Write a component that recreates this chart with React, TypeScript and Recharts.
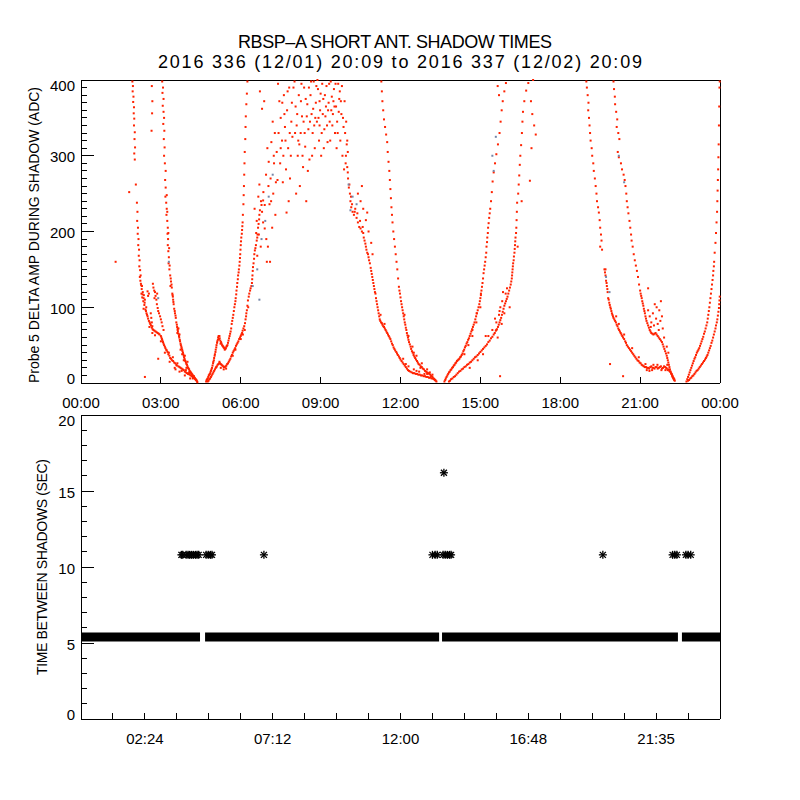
import React from 'react';
import { ScatterChart, ComposedChart, Scatter, Line, XAxis, YAxis } from 'recharts';

type Pt = [number, number]; // [hour of day, ADC]

// ---- top panel, one list per shadow branch ----
const dawnOuter: Pt[] = [
  [1.93, 398], [1.95, 392], [1.94, 385], [1.97, 378], [1.96, 371], [1.99, 364], [1.98, 356], [2.0, 349],
  [1.99, 340], [2.02, 331], [2.01, 322], [2.03, 311], [2.0, 303], [2.02, 295], [1.81, 252], [2.06, 262],
  [2.1, 238], [2.12, 226], [2.11, 214], [2.14, 205], [2.13, 197], [2.16, 190], [2.15, 182], [2.18, 176],
  [2.17, 168], [2.2, 162], [2.19, 154], [2.22, 149], [2.24, 142], [2.23, 135], [2.26, 129], [2.28, 124],
  [2.27, 118], [2.3, 113], [2.32, 120], [2.34, 108], [2.36, 116], [2.38, 103], [2.4, 110], [2.42, 97],
  [2.46, 92], [2.5, 88], [2.55, 82], [2.6, 78], [2.66, 73], [2.72, 70], [2.8, 68], [2.88, 66],
  [2.95, 64], [3.0, 62], [3.04, 58], [3.08, 54], [3.12, 50], [3.17, 46], [3.22, 43], [3.28, 38],
  [3.35, 33], [3.42, 30], [3.5, 27], [3.58, 24], [3.66, 22], [3.74, 20], [3.82, 18], [3.9, 15],
  [3.98, 13], [4.05, 12], [4.12, 10], [4.2, 8], [4.28, 6], [4.33, 4], [4.36, 2], [3.3, 40],
  [3.45, 34], [3.62, 26], [3.78, 16], [3.94, 17], [4.1, 14], [4.24, 9], [2.21, 140], [2.29, 128],
  [2.25, 131], [2.31, 117], [2.35, 112], [2.39, 106], [2.44, 95], [2.48, 90], [2.52, 85], [2.58, 80],
  [2.63, 76], [2.69, 71], [2.76, 69], [2.84, 67], [2.92, 65], [3.02, 60], [3.06, 56], [3.1, 52],
  [3.15, 48], [3.2, 44], [3.25, 41], [3.32, 36], [3.38, 32], [3.46, 29], [3.54, 26], [3.6, 23],
  [3.7, 21], [3.78, 19], [3.86, 17], [3.94, 14], [4.02, 12], [4.08, 11], [4.16, 9], [4.22, 7],
  [4.3, 5], [2.35, 98], [2.45, 100], [2.57, 74], [2.68, 66], [2.78, 63], [3.0, 55], [3.15, 40],
  [3.33, 28], [3.52, 20], [3.7, 15], [3.9, 10], [4.1, 6],
];
const dawnBump: Pt[] = [
  [2.7, 131], [2.72, 126], [2.75, 122], [2.78, 120], [2.8, 115], [2.83, 110], [2.85, 104], [2.88, 99],
  [2.9, 95], [2.93, 92], [2.97, 88], [3.0, 84], [3.03, 80], [3.06, 75], [3.1, 70], [2.62, 92],
  [2.64, 86], [2.66, 80], [2.68, 75], [2.5, 121], [2.55, 118], [2.52, 115], [2.76, 112], [2.86, 118],
];
const dawnInner: Pt[] = [
  [3.05, 398], [3.08, 390], [3.06, 383], [3.1, 375], [3.07, 366], [3.1, 358], [3.12, 350], [3.09, 342],
  [3.13, 333], [3.11, 322], [3.14, 311], [3.12, 300], [3.16, 268], [3.18, 258], [3.17, 246], [3.2, 238],
  [3.22, 230], [3.21, 222], [3.24, 214], [3.26, 205], [3.25, 197], [3.27, 190], [3.26, 182], [3.28, 174],
  [3.3, 166], [3.29, 158], [3.32, 150], [3.35, 142], [3.38, 134], [3.41, 126], [3.43, 118], [3.46, 110],
  [3.48, 104], [3.5, 98], [3.53, 92], [3.56, 86], [3.58, 80], [3.61, 74], [3.64, 68], [3.66, 65],
  [3.69, 60], [3.72, 55], [3.75, 50], [3.78, 46], [3.81, 42], [3.84, 38], [3.87, 34], [3.9, 30],
  [3.94, 27], [3.98, 24], [4.02, 20], [4.06, 18], [4.1, 15], [4.14, 13], [4.18, 11], [4.22, 9],
  [4.26, 7], [4.3, 5], [4.34, 3], [4.37, 1], [3.63, 70], [3.66, 72], [3.62, 66], [3.7, 64],
  [3.9, 36], [4.0, 28], [3.36, 128], [3.44, 116],
  [3.15, 290], [3.18, 280], [3.22, 248], [3.24, 226], [3.28, 198], [3.31, 178], [3.33, 155], [3.37, 138],
  [3.4, 130], [3.45, 114], [3.47, 107], [3.52, 95], [3.55, 89], [3.6, 77], [3.63, 72], [3.68, 62],
  [3.71, 57], [3.74, 52], [3.77, 48], [3.8, 44], [3.83, 40], [3.86, 36], [3.89, 32], [3.92, 29],
  [3.96, 25], [4.0, 22], [4.04, 19], [4.08, 16], [4.12, 14], [4.16, 12], [4.2, 10], [4.24, 8],
  [4.28, 6], [4.32, 4], [3.74, 44], [3.8, 38], [3.86, 30], [3.96, 20], [4.06, 14], [4.2, 6],
];
const dawnStray: Pt[] = [
  [2.66, 392], [2.68, 372], [2.67, 356], [2.65, 333], [1.3, 160], [2.4, 8], [2.9, 32], [3.55, 18],
];
const morningUpper: Pt[] = [
  [4.7, 2], [4.74, 5], [4.78, 8], [4.82, 11], [4.86, 14], [4.9, 18], [4.94, 23], [4.97, 28],
  [5.0, 33], [5.03, 38], [5.06, 44], [5.09, 50], [5.12, 55], [5.15, 60], [5.18, 58], [5.2, 62],
  [5.23, 56], [5.26, 54], [5.3, 50], [5.34, 48], [5.38, 46], [5.42, 45], [5.46, 48], [5.5, 50],
  [5.54, 56], [5.58, 62], [5.62, 68], [5.66, 78], [5.7, 86], [5.74, 95], [5.78, 104], [5.81, 112],
  [5.84, 122], [5.87, 132], [5.9, 142], [5.93, 150], [5.96, 160], [5.98, 170], [6.0, 182], [6.02, 192],
  [6.05, 202], [6.07, 212], [6.08, 222], [6.1, 236], [6.11, 248], [6.12, 260], [6.13, 275], [6.14, 290],
  [6.15, 305], [6.17, 322], [6.18, 338], [6.19, 352], [6.21, 368], [6.23, 382], [6.25, 398], [5.24, 52],
  [4.72, 4], [4.76, 6], [4.8, 10], [4.84, 12], [4.88, 16], [4.92, 20], [4.96, 26], [4.99, 30],
  [5.02, 36], [5.05, 41], [5.08, 47], [5.11, 53], [5.14, 57], [5.17, 62], [5.21, 59], [5.28, 52],
  [5.32, 49], [5.36, 47], [5.4, 44], [5.44, 46], [5.48, 49], [5.52, 53], [5.56, 59], [5.6, 65],
  [5.64, 72], [5.68, 82], [5.72, 90], [5.76, 100], [5.8, 108], [5.83, 117], [5.86, 127], [5.89, 137],
  [5.92, 146], [5.95, 155], [5.97, 165], [5.99, 176], [6.01, 187], [6.04, 197], [6.06, 207],
];
const morningLower: Pt[] = [
  [4.76, 2], [4.82, 5], [4.88, 8], [4.94, 12], [5.0, 16], [5.06, 20], [5.1, 22], [5.16, 25],
  [5.22, 26], [5.28, 24], [5.34, 22], [5.4, 21], [5.46, 23], [5.52, 26], [5.58, 30], [5.64, 35],
  [5.7, 40], [5.76, 44], [5.82, 49], [5.88, 53], [5.94, 58], [6.0, 62], [6.05, 66], [6.1, 72],
  [6.16, 79], [6.2, 88], [6.23, 96], [6.27, 109], [6.32, 118], [6.37, 125], [6.42, 132], [6.44, 142],
  [6.46, 153], [6.5, 164], [6.53, 175], [6.57, 182], [6.6, 188], [6.63, 196], [6.65, 205], [6.69, 216],
  [6.72, 228], [6.78, 235], [6.84, 241], [5.25, 20], [5.36, 18], [5.8, 44], [6.08, 64],
  [4.79, 3], [4.85, 6], [4.91, 10], [4.97, 14], [5.03, 18], [5.08, 21], [5.13, 24], [5.19, 26],
  [5.25, 25], [5.31, 23], [5.37, 21], [5.43, 22], [5.49, 25], [5.55, 28], [5.61, 32], [5.67, 37],
  [5.73, 42], [5.79, 46], [5.85, 51], [5.91, 55], [5.97, 60], [6.02, 64], [6.07, 69], [6.13, 75],
  [6.18, 84], [6.21, 92], [6.25, 102], [6.3, 114], [6.35, 122], [6.4, 128], [6.43, 137], [6.45, 148],
  [6.48, 158], [6.51, 170], [6.55, 178], [6.62, 192], [6.67, 210], [6.7, 222], [5.2, 28], [5.45, 19],
  [5.7, 36], [6.0, 58], [6.15, 70], [6.28, 100],
];
const noonCloud: Pt[] = [
  [6.52, 230], [6.6, 214], [6.58, 198], [6.66, 246], [6.7, 262], [6.75, 180], [6.8, 226], [6.85, 252],
  [6.9, 204], [6.95, 275], [6.72, 385], [6.8, 362], [6.88, 372], [6.62, 168], [6.98, 160],
  [7.0, 310], [7.05, 292], [7.08, 236], [7.12, 270], [7.15, 318], [7.18, 205], [7.22, 250], [7.25, 290],
  [7.3, 222], [7.35, 305], [7.02, 180], [7.1, 160], [7.28, 330], [7.38, 268], [7.2, 345],
  [7.4, 395], [7.45, 372], [7.5, 350], [7.55, 320], [7.6, 300], [7.62, 380], [7.66, 338], [7.7, 282],
  [7.74, 360], [7.78, 310], [7.82, 390], [7.85, 270], [7.9, 345], [7.94, 325], [7.48, 290], [7.58, 265],
  [7.8, 240], [7.72, 225],
  [8.02, 398], [8.06, 365], [8.1, 340], [8.14, 300], [8.18, 380], [8.22, 260], [8.25, 330], [8.3, 352],
  [8.34, 285], [8.38, 390], [8.42, 312], [8.46, 240], [8.5, 368], [8.54, 335], [8.58, 295], [8.08, 250],
  [8.28, 395], [8.44, 375], [8.16, 320], [8.36, 345],
  [8.62, 380], [8.66, 355], [8.7, 330], [8.74, 398], [8.78, 310], [8.82, 370], [8.86, 345], [8.9, 388],
  [8.94, 320], [8.98, 360], [9.02, 300], [9.06, 395], [9.1, 375], [9.14, 335], [9.18, 352], [9.22, 392],
  [9.26, 318], [9.3, 370], [9.34, 345], [8.68, 300], [8.88, 400], [9.0, 382], [9.2, 365], [8.8, 350],
  [9.12, 310],
  [9.38, 398], [9.42, 378], [9.46, 355], [9.5, 388], [9.54, 330], [9.58, 365], [9.62, 345], [9.66, 395],
  [9.7, 375], [9.74, 320], [9.78, 355], [9.82, 300], [9.86, 338], [9.9, 372], [9.94, 290], [9.98, 315],
  [9.44, 340], [9.6, 310], [9.72, 385], [9.88, 282], [9.52, 365], [9.8, 392], [8.96, 340], [8.56, 390],
  [8.04, 330], [8.12, 355], [8.2, 315], [8.26, 372], [8.32, 300], [8.4, 330], [8.48, 352], [8.52, 280],
  [8.6, 345], [8.64, 398], [8.72, 362], [8.76, 340], [8.84, 392], [8.92, 350], [8.96, 372], [9.04, 330],
  [9.08, 355], [9.16, 380], [9.24, 340], [9.28, 360], [9.32, 395], [9.36, 320], [9.4, 360], [9.48, 372],
  [9.56, 395], [9.64, 330], [9.68, 358], [9.76, 372], [9.84, 350], [9.92, 330], [9.96, 345], [10.0, 320],
  [10.02, 305], [7.5, 310], [7.56, 370], [7.64, 355], [7.68, 320], [7.76, 385], [7.84, 330], [7.88, 300],
  [7.92, 370], [7.98, 390], [7.04, 260], [7.14, 240], [7.24, 300], [7.32, 265], [7.42, 330], [6.9, 235],
  [6.96, 190], [6.84, 212], [6.76, 240], [6.68, 196],
];
const noonFallLeft: Pt[] = [
  [9.95, 300], [10.0, 285], [10.03, 270], [10.06, 258], [10.1, 250], [10.12, 240], [10.15, 232], [10.2, 226],
  [10.25, 222], [10.3, 230], [10.35, 218], [10.4, 212], [10.45, 206], [10.5, 204], [10.55, 200], [10.6, 198],
  [10.65, 188], [10.7, 180], [10.75, 172], [10.8, 166], [10.85, 158], [10.9, 148], [10.94, 140], [10.98, 132],
  [11.02, 124], [11.06, 118], [11.1, 108], [11.14, 100], [11.18, 92], [11.22, 84], [11.27, 80], [11.32, 77],
  [11.38, 74], [11.44, 70], [11.5, 66], [11.56, 62], [11.62, 58], [11.68, 52], [11.74, 47], [11.8, 43],
  [11.87, 39], [11.94, 35], [12.0, 31], [12.08, 27], [12.16, 23], [12.24, 19], [12.32, 16], [12.42, 14],
  [12.52, 13], [12.62, 12], [12.72, 11], [12.82, 10], [12.92, 9], [13.02, 8], [13.12, 7], [13.22, 6],
  [13.3, 4], [13.35, 2], [10.5, 240], [10.6, 230], [10.7, 215], [10.75, 225], [10.8, 200], [10.9, 185],
  [10.95, 170], [10.4, 250], [10.55, 260], [11.25, 90], [11.4, 78], [12.2, 25], [12.6, 16], [13.0, 12],
  [10.02, 278], [10.08, 262], [10.14, 246], [10.18, 236], [10.28, 226], [10.38, 224], [10.48, 214], [10.58, 206],
  [10.62, 192], [10.68, 184], [10.72, 176], [10.78, 170], [10.82, 162], [10.88, 152], [10.92, 144], [10.96, 136],
  [11.0, 128], [11.04, 120], [11.08, 112], [11.12, 104], [11.16, 96], [11.2, 88], [11.24, 82], [11.3, 79],
  [11.35, 75], [11.41, 72], [11.47, 68], [11.53, 64], [11.59, 60], [11.65, 55], [11.71, 50], [11.77, 45],
  [11.84, 41], [11.9, 37], [11.97, 33], [12.04, 29], [12.12, 25], [12.2, 21], [12.28, 17], [12.37, 15],
  [12.47, 13], [12.57, 12], [12.67, 11], [12.77, 10], [12.87, 9], [12.97, 8], [13.07, 7], [13.17, 6],
  [13.26, 5], [12.1, 32], [12.3, 22], [12.5, 18], [12.7, 15], [12.9, 12], [13.15, 9],
];
const noonFallRight: Pt[] = [
  [11.28, 398], [11.3, 385], [11.32, 372], [11.35, 360], [11.38, 348], [11.42, 338], [11.46, 328], [11.5, 318],
  [11.52, 305], [11.55, 292], [11.58, 280], [11.6, 268], [11.62, 256], [11.64, 244], [11.66, 232], [11.68, 222],
  [11.7, 212], [11.73, 200], [11.76, 190], [11.79, 180], [11.82, 170], [11.85, 160], [11.88, 150], [11.91, 138],
  [11.94, 127], [11.98, 118], [12.02, 108], [12.06, 100], [12.1, 92], [12.14, 84], [12.18, 77], [12.22, 70],
  [12.26, 63], [12.3, 57], [12.35, 51], [12.4, 45], [12.46, 40], [12.52, 35], [12.58, 31], [12.65, 27],
  [12.72, 24], [12.8, 21], [12.88, 18], [12.96, 15], [13.04, 13], [13.12, 11], [13.2, 8], [13.27, 5],
  [13.32, 3], [12.5, 40], [12.75, 20], [13.1, 14],
  [11.96, 122], [12.0, 113], [12.04, 104], [12.08, 96], [12.12, 88], [12.16, 80], [12.2, 73], [12.24, 66],
  [12.28, 60], [12.32, 54], [12.38, 48], [12.43, 42], [12.49, 37], [12.55, 33], [12.62, 29], [12.68, 25],
  [12.76, 22], [12.84, 19], [12.92, 16], [13.0, 14], [13.08, 12], [13.16, 9], [13.24, 6], [13.3, 4],
  [12.15, 90], [12.3, 62], [12.45, 48], [12.6, 36], [12.8, 26], [13.0, 18], [13.2, 11],
];
const afternoonUpper: Pt[] = [
  [13.65, 2], [13.7, 6], [13.76, 10], [13.82, 14], [13.88, 17], [13.94, 20], [14.0, 23], [14.06, 26],
  [14.12, 29], [14.18, 31], [14.24, 34], [14.3, 37], [14.36, 42], [14.42, 47], [14.48, 52], [14.54, 57],
  [14.6, 62], [14.66, 68], [14.72, 74], [14.78, 80], [14.84, 88], [14.9, 96], [14.96, 104], [15.0, 112],
  [15.04, 122], [15.08, 132], [15.12, 145], [15.16, 155], [15.2, 166], [15.23, 180], [15.26, 192], [15.29, 205],
  [15.33, 218], [15.37, 230], [15.4, 240], [15.43, 252], [15.46, 266], [15.5, 278], [15.55, 290], [15.6, 302],
  [15.66, 315], [15.72, 330], [15.76, 345], [15.8, 360], [15.84, 372], [15.9, 385], [15.96, 396], [15.7, 380],
  [15.65, 392], [14.7, 70], [14.86, 92], [15.02, 118],
  [13.68, 4], [13.73, 8], [13.79, 12], [13.85, 15], [13.91, 18], [13.97, 21], [14.03, 24], [14.09, 27],
  [14.15, 30], [14.21, 32], [14.27, 35], [14.33, 39], [14.39, 44], [14.45, 49], [14.51, 54], [14.57, 59],
  [14.63, 65], [14.69, 71], [14.75, 77], [14.81, 84], [14.87, 92], [14.93, 100], [14.98, 108], [15.02, 116],
  [15.06, 127], [15.1, 138], [15.14, 150], [15.18, 160], [15.22, 172], [15.25, 186], [15.28, 198], [15.31, 211],
  [15.35, 224], [14.4, 38], [14.55, 50], [14.7, 62], [14.85, 80], [15.0, 100],
];
const afternoonLower: Pt[] = [
  [13.82, 2], [13.9, 5], [14.0, 8], [14.1, 11], [14.2, 15], [14.3, 18], [14.4, 21], [14.5, 24],
  [14.6, 27], [14.7, 30], [14.8, 34], [14.9, 37], [15.0, 41], [15.1, 45], [15.2, 49], [15.3, 54],
  [15.4, 59], [15.5, 64], [15.58, 69], [15.66, 74], [15.72, 80], [15.78, 86], [15.84, 94], [15.9, 102],
  [15.96, 108], [16.02, 114], [16.08, 122], [16.14, 130], [16.18, 138], [16.2, 146], [16.22, 154], [16.25, 162],
  [16.28, 172], [16.3, 182], [16.32, 192], [16.35, 205], [16.36, 215], [16.37, 226], [16.38, 238], [16.42, 250],
  [16.44, 262], [16.46, 274], [16.48, 288], [16.5, 300], [16.53, 314], [16.56, 330], [16.58, 345], [16.6, 358],
  [16.65, 372], [16.72, 386], [16.8, 396], [16.98, 400], [16.9, 372], [16.95, 355], [17.02, 340], [17.08, 328],
  [16.86, 267], [16.92, 310], [16.55, 240], [16.4, 180], [16.1, 100], [15.85, 120], [15.2, 62], [15.55, 85],
  [15.65, 60], [15.7, 90], [15.75, 100], [15.8, 78], [15.9, 92], [16.0, 125], [15.6, 70], [15.74, 9],
  [13.86, 3], [13.95, 6], [14.05, 9], [14.15, 13], [14.25, 16], [14.35, 19], [14.45, 22], [14.55, 25],
  [14.65, 28], [14.75, 32], [14.85, 35], [14.95, 39], [15.05, 43], [15.15, 47], [15.25, 51], [15.35, 56],
  [15.45, 61], [15.54, 66], [15.62, 71], [15.69, 77], [15.75, 83], [15.81, 90], [15.87, 98], [15.93, 105],
  [15.99, 111], [16.05, 118], [16.11, 126], [16.16, 134], [16.19, 142], [16.21, 150], [16.23, 158], [16.26, 167],
  [16.29, 177], [16.31, 187], [16.34, 198], [15.3, 62], [15.45, 70], [15.6, 80], [15.72, 95], [15.82, 108],
  [15.95, 118], [14.6, 20], [14.9, 30], [15.1, 38],
];
const eveningOuter: Pt[] = [
  [18.98, 398], [19.0, 390], [19.03, 380], [19.06, 370], [19.05, 360], [19.08, 350], [19.1, 340], [19.12, 330],
  [19.14, 320], [19.18, 310], [19.2, 300], [19.24, 290], [19.26, 280], [19.3, 270], [19.33, 260], [19.36, 250],
  [19.38, 240], [19.42, 232], [19.45, 225], [19.48, 215], [19.5, 205], [19.53, 196], [19.55, 188], [19.5, 180],
  [19.57, 176], [19.66, 150], [19.7, 142], [19.72, 135], [19.75, 128], [19.78, 120], [19.8, 112], [19.84, 106],
  [19.88, 100], [19.92, 95], [19.96, 90], [20.0, 86], [20.06, 82], [20.12, 77], [20.18, 72], [20.24, 68],
  [20.3, 64], [20.36, 60], [20.44, 55], [20.5, 50], [20.58, 46], [20.66, 42], [20.74, 38], [20.82, 34],
  [20.9, 30], [20.98, 27], [21.06, 24], [21.14, 22], [21.22, 21], [21.3, 20], [21.38, 21], [21.46, 20],
  [21.54, 19], [21.62, 21], [21.7, 20], [21.78, 22], [21.86, 20], [21.94, 21], [22.0, 19], [22.06, 18],
  [22.12, 15], [22.18, 12], [22.22, 9], [22.26, 6], [22.3, 3], [21.2, 25], [21.5, 24], [21.8, 17],
  [21.35, 16], [22.02, 24], [19.87, 25], [20.36, 9], [19.7, 150], [20.2, 78],
  [19.68, 146], [19.74, 132], [19.77, 124], [19.82, 110], [19.86, 103], [19.9, 98], [19.94, 92], [19.98, 88],
  [20.03, 84], [20.09, 80], [20.15, 75], [20.21, 70], [20.27, 66], [20.33, 62], [20.4, 58], [20.47, 53],
  [20.54, 48], [20.62, 44], [20.7, 40], [20.78, 36], [20.86, 32], [20.94, 29], [21.02, 26], [21.1, 23],
  [21.18, 21], [21.26, 20], [21.34, 19], [21.42, 22], [21.5, 20], [21.58, 21], [21.66, 19], [21.74, 21],
  [21.82, 19], [21.9, 22], [21.98, 20], [22.04, 17], [22.1, 16], [22.16, 13], [22.2, 10], [22.24, 7],
  [22.28, 5], [21.25, 17], [21.45, 17], [21.65, 24], [21.95, 17], [20.1, 88], [20.4, 64], [20.7, 46],
  [20.95, 34],
];
const eveningInner: Pt[] = [
  [20.0, 398], [20.02, 388], [20.05, 378], [20.06, 368], [20.1, 358], [20.14, 348], [20.12, 338], [20.18, 330],
  [20.22, 322], [20.16, 305], [20.2, 298], [20.28, 290], [20.32, 282], [20.38, 275], [20.42, 268], [20.45, 260],
  [20.48, 250], [20.5, 240], [20.53, 232], [20.56, 224], [20.6, 214], [20.63, 205], [20.66, 196], [20.68, 188],
  [20.72, 180], [20.76, 170], [20.8, 162], [20.84, 155], [20.88, 148], [20.92, 140], [20.96, 130], [21.0, 122],
  [21.04, 115], [21.08, 108], [21.12, 102], [21.16, 95], [21.2, 88], [21.24, 82], [21.3, 76], [21.36, 70],
  [21.42, 66], [21.5, 64], [21.58, 66], [21.66, 62], [21.74, 58], [21.82, 54], [21.88, 48], [21.94, 42],
  [22.0, 36], [22.04, 30], [22.08, 24], [22.12, 18], [22.18, 12], [22.22, 8], [22.28, 4], [21.3, 125],
  [21.02, 118], [21.06, 112], [21.1, 105], [21.14, 98], [21.18, 92], [21.22, 85], [21.27, 79], [21.33, 73],
  [21.39, 68], [21.46, 65], [21.54, 65], [21.62, 64], [21.7, 60], [21.78, 56], [21.85, 51], [21.91, 45],
  [21.97, 39], [22.02, 33], [22.06, 27], [22.1, 21], [22.15, 15], [22.2, 10], [22.25, 6], [21.9, 60],
  [22.0, 48], [22.06, 40],
];
const eveningKnot: Pt[] = [
  [21.3, 96], [21.36, 88], [21.42, 80], [21.48, 92], [21.55, 104], [21.6, 85], [21.66, 78], [21.72, 96],
  [21.78, 108], [21.82, 88], [21.85, 72], [21.62, 100], [21.4, 74], [21.7, 70], [21.52, 76], [21.76, 82],
];
const lateUpper: Pt[] = [
  [22.74, 2], [22.8, 8], [22.86, 14], [22.92, 20], [22.98, 26], [23.04, 32], [23.1, 37], [23.16, 42],
  [23.22, 46], [23.28, 52], [23.34, 58], [23.4, 65], [23.46, 72], [23.52, 80], [23.56, 90], [23.6, 100],
  [23.64, 112], [23.68, 124], [23.72, 136], [23.75, 148], [23.78, 160], [23.8, 172], [23.83, 185], [23.85, 198],
  [23.87, 212], [23.89, 226], [23.9, 240], [23.91, 254], [23.92, 268], [23.93, 282], [23.94, 298], [23.95, 315],
  [23.96, 340], [23.97, 365], [23.98, 390], [23.99, 398],
  [22.77, 5], [22.83, 11], [22.89, 17], [22.95, 23], [23.01, 29], [23.07, 34], [23.13, 40], [23.19, 44],
  [23.25, 49], [23.31, 55], [23.37, 61], [23.43, 68], [23.49, 76], [23.54, 85], [23.58, 95], [23.62, 106],
  [23.66, 118], [23.7, 130], [23.74, 142], [23.77, 154],
];
const lateLower: Pt[] = [
  [22.8, 3], [22.88, 6], [22.96, 9], [23.04, 12], [23.12, 16], [23.2, 19], [23.28, 23], [23.36, 27],
  [23.44, 31], [23.5, 35], [23.56, 40], [23.62, 46], [23.68, 53], [23.74, 60], [23.8, 68], [23.85, 76],
  [23.9, 84], [23.94, 94], [23.97, 104], [23.99, 114],
  [22.84, 4], [22.92, 7], [23.0, 10], [23.08, 14], [23.16, 17], [23.24, 21], [23.32, 25], [23.4, 29],
  [23.47, 33], [23.53, 37], [23.59, 43], [23.65, 49], [23.71, 56], [23.77, 64], [23.83, 72], [23.88, 80],
  [23.92, 89], [23.96, 99], [23.98, 109],
];
const grayDots: Pt[] = [
  [6.45, 128], [6.62, 150], [6.78, 190], [6.92, 214], [7.05, 246], [7.2, 275], [6.7, 110], [10.05, 262],
  [10.2, 246], [10.35, 236], [10.12, 228], [15.45, 300], [15.58, 325], [15.5, 280], [19.72, 140], [19.85, 120],
  [2.9, 112], [3.3, 160], [20.2, 300], [20.4, 265],
];

// ---- bottom panel ----
const shadowPeriod = 5.4;
const bandStarts = [0, 4.66, 13.56, 22.57];
const bandEnds = [4.47, 13.45, 22.42, 24];
const doubleGapHours = [
  3.77, 3.82, 3.95, 4.02, 4.08, 4.15, 4.22, 4.3, 4.36, 4.42, 4.7, 4.78, 4.86, 4.92, 6.87,
  13.2, 13.3, 13.38, 13.6, 13.68, 13.76, 13.84, 13.9, 19.6, 22.22, 22.3, 22.38, 22.72, 22.8, 22.9,
];
const tripleGapHours = [13.63];

// ---- ticks and labels ----
const hourTicks = [0, 3, 6, 9, 12, 15, 18, 21, 24];
const hourLabels = ['00:00', '03:00', '06:00', '09:00', '12:00', '15:00', '18:00', '21:00', '00:00'];
const gapMinorTicks = [1.2, 2.4, 3.6, 4.8, 6, 7.2, 8.4, 9.6, 10.8, 12, 13.2, 14.4, 15.6, 16.8, 18, 19.2, 20.4, 21.6, 22.8];
const gapMajorTicks = [2.4, 7.2, 12, 16.8, 21.6];
const gapMajorLabels = ['02:24', '07:12', '12:00', '16:48', '21:35'];
const adcTicks = Array.from({ length: 41 }, (_, i) => i * 10);
const secTicks = Array.from({ length: 21 }, (_, i) => i);

const toRows = (pts: Pt[]) => pts.map(([h, v]) => ({ h, v }));
const redRows = toRows([
  ...dawnOuter, ...dawnBump, ...dawnInner, ...dawnStray, ...morningUpper, ...morningLower, ...noonCloud,
  ...noonFallLeft, ...noonFallRight, ...afternoonUpper, ...afternoonLower, ...eveningOuter, ...eveningInner,
  ...eveningKnot, ...lateUpper, ...lateLower,
]);
const grayRows = toRows(grayDots);

const bandRows: { h: number; v: number | null }[] = [];
bandStarts.forEach((s, i) => {
  bandRows.push({ h: s, v: shadowPeriod }, { h: bandEnds[i], v: shadowPeriod });
  if (i < bandStarts.length - 1) bandRows.push({ h: (bandEnds[i] + bandStarts[i + 1]) / 2, v: null });
});
const starRows = [
  ...doubleGapHours.map((h) => ({ h, v: shadowPeriod * 2 })),
  ...tripleGapHours.map((h) => ({ h, v: shadowPeriod * 3 })),
];

const FONT = '"Liberation Sans", Arial, sans-serif';
const txt = { fontFamily: FONT, fontSize: 15, fill: '#000' };
const crisp = { stroke: '#000', shapeRendering: 'crispEdges' } as const;

// inward IDL style ticks
const LeftTick = ({ x, y, payload, step, min, max }: any) => {
  const v = payload.value;
  const major = v % step === 0;
  const dy = v === min ? -5 : v === max ? 5 : 1;
  return (
    <g>
      <line x1={x} x2={x + (major ? 13 : 6)} y1={y} y2={y} {...crisp} />
      {major && (
        <text x={x - 6} y={y + dy} textAnchor="end" dominantBaseline="central" {...txt}>{v}</text>
      )}
    </g>
  );
};
const RightTick = ({ x, y, payload, step }: any) => {
  const major = payload.value % step === 0;
  return <line x1={x} x2={x - (major ? 13 : 6)} y1={y} y2={y} {...crisp} />;
};
const BottomTick = ({ x, y, payload, labelFor }: any) => {
  const label = labelFor(payload.value);
  return (
    <g>
      <line x1={x} x2={x} y1={y} y2={y - 6} {...crisp} />
      {label && (
        <text x={x} y={y + 19} textAnchor="middle" dominantBaseline="central" {...txt}>{label}</text>
      )}
    </g>
  );
};
const TopTick = ({ x, y }: any) => <line x1={x} x2={x} y1={y} y2={y + 6} {...crisp} />;

const Dot = (color: string) => (p: any) => <rect x={p.cx - 1} y={p.cy - 1} width={2} height={2} fill={color} />;
const Asterisk = (p: any) => (
  <g stroke="#000" strokeWidth={1.3}>
    <line x1={p.cx - 4} x2={p.cx + 4} y1={p.cy} y2={p.cy} />
    <line x1={p.cx} x2={p.cx} y1={p.cy - 4} y2={p.cy + 4} />
    <line x1={p.cx - 3} x2={p.cx + 3} y1={p.cy - 3} y2={p.cy + 3} />
    <line x1={p.cx - 3} x2={p.cx + 3} y1={p.cy + 3} y2={p.cy - 3} />
  </g>
);

const hourLabelFor = (v: number) => hourLabels[hourTicks.indexOf(v)];
const gapLabelFor = (v: number) => gapMajorLabels[gapMajorTicks.indexOf(v)];

export default function App() {
  return (
    <div style={{ position: 'absolute', left: 0, top: 0, width: 800, height: 800, background: '#fff' }}>
      <div style={{ position: 'absolute', left: 0, top: 0 }}>
        <ScatterChart width={800} height={420} margin={{ top: 70, right: 70, bottom: 7, left: 21 }}>
          <XAxis dataKey="h" type="number" domain={[0, 24]} ticks={hourTicks} interval={0} height={30}
            tickSize={0} tickMargin={0} tickLine={false} axisLine={crisp}
            tick={(p: any) => <BottomTick {...p} labelFor={hourLabelFor} />} />
          <XAxis xAxisId="top" orientation="top" type="number" domain={[0, 24]} ticks={hourTicks} interval={0} height={10}
            tickSize={0} tickMargin={0} tickLine={false} axisLine={crisp} tick={(p: any) => <TopTick {...p} />} />
          <YAxis dataKey="v" type="number" domain={[0, 400]} ticks={adcTicks} interval={0} width={60}
            tickSize={0} tickMargin={0} tickLine={false} axisLine={crisp}
            tick={(p: any) => <LeftTick {...p} step={100} min={0} max={400} />} />
          <YAxis yAxisId="right" orientation="right" type="number" domain={[0, 400]} ticks={adcTicks} interval={0} width={10}
            tickSize={0} tickMargin={0} tickLine={false} axisLine={crisp}
            tick={(p: any) => <RightTick {...p} step={100} />} />
          <Scatter data={redRows} shape={Dot('#ff2200')} isAnimationActive={false} />
          <Scatter data={grayRows} shape={Dot('#7586a8')} isAnimationActive={false} />
        </ScatterChart>
      </div>
      <div style={{ position: 'absolute', left: 0, top: 400 }}>
        <ComposedChart width={800} height={360} margin={{ top: 5, right: 70, bottom: 11, left: 21 }}>
          <XAxis dataKey="h" type="number" domain={[0, 24]} ticks={gapMinorTicks} interval={0} height={30}
            tickSize={0} tickMargin={0} tickLine={false} axisLine={crisp}
            tick={(p: any) => <BottomTick {...p} labelFor={gapLabelFor} />} />
          <XAxis xAxisId="top" orientation="top" type="number" domain={[0, 24]} ticks={gapMinorTicks} interval={0} height={10}
            tickSize={0} tickMargin={0} tickLine={false} axisLine={crisp} tick={(p: any) => <TopTick {...p} />} />
          <YAxis dataKey="v" type="number" domain={[0, 20]} ticks={secTicks} interval={0} width={60}
            tickSize={0} tickMargin={0} tickLine={false} axisLine={crisp}
            tick={(p: any) => <LeftTick {...p} step={5} min={0} max={20} />} />
          <YAxis yAxisId="right" orientation="right" type="number" domain={[0, 20]} ticks={secTicks} interval={0} width={10}
            tickSize={0} tickMargin={0} tickLine={false} axisLine={crisp}
            tick={(p: any) => <RightTick {...p} step={5} />} />
          <Line data={bandRows} dataKey="v" stroke="#000" strokeWidth={9} dot={false} activeDot={false}
            type="linear" isAnimationActive={false} />
          <Scatter data={starRows} dataKey="v" shape={Asterisk} isAnimationActive={false} />
        </ComposedChart>
      </div>
      <svg width={800} height={800} style={{ position: 'absolute', left: 0, top: 0, pointerEvents: 'none' }}>
        <text x={395} y={48} textAnchor="middle" fontFamily={FONT} fontSize={18} textLength={314} lengthAdjust="spacing">
          RBSP–A SHORT ANT. SHADOW TIMES
        </text>
        <text x={400} y={68} textAnchor="middle" fontFamily={FONT} fontSize={18} textLength={484} lengthAdjust="spacing">
          2016 336 (12/01) 20:09 to 2016 337 (12/02) 20:09
        </text>
        <text x={34} y={235} transform="rotate(-90 34 235)" textAnchor="middle" dominantBaseline="central"
          fontFamily={FONT} fontSize={14} textLength={296} lengthAdjust="spacing">
          Probe 5 DELTA AMP DURING SHADOW (ADC)
        </text>
        <text x={42} y={567} transform="rotate(-90 42 567)" textAnchor="middle" dominantBaseline="central"
          fontFamily={FONT} fontSize={14} textLength={216} lengthAdjust="spacing">
          TIME BETWEEN SHADOWS (SEC)
        </text>
      </svg>
    </div>
  );
}
